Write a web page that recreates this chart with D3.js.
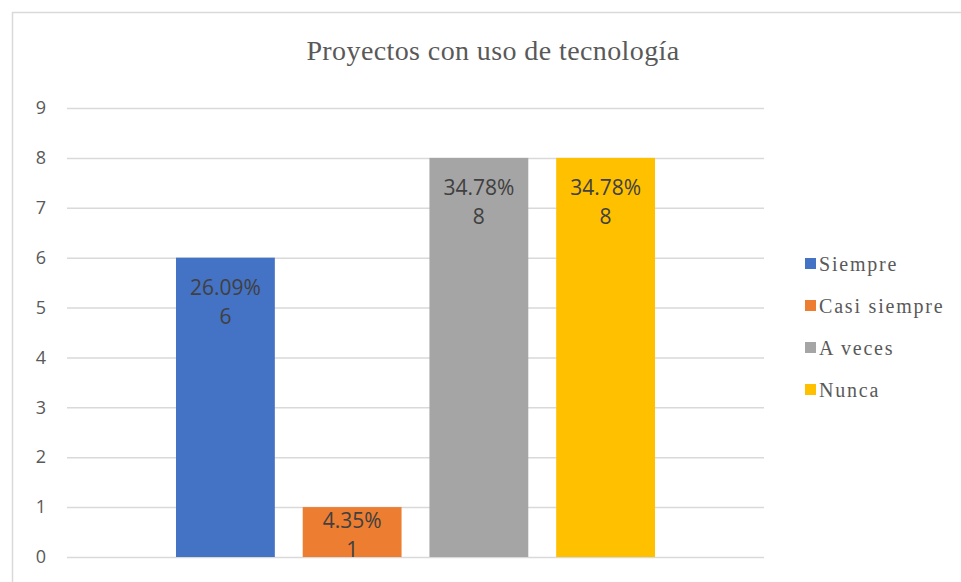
<!DOCTYPE html>
<html>
<head>
<meta charset="utf-8">
<script src="https://cdn.jsdelivr.net/npm/d3@7"></script>
<style>
  html, body { margin: 0; padding: 0; background: #fff; }
  svg { display: block; }
</style>
</head>
<body>
<svg id="chart" width="961" height="582"></svg>
<script>
// Respuestas por categoría (un solo grupo, cuatro series)
const series = ["Siempre", "Casi siempre", "A veces", "Nunca"];
const counts = [6, 1, 8, 8];
const percents = ["26.09%", "4.35%", "34.78%", "34.78%"];
const colors = ["#4472C4", "#ED7D31", "#A5A5A5", "#FFC000"];
const yTicks = [0, 1, 2, 3, 4, 5, 6, 7, 8, 9];
const title = "Proyectos con uso de tecnología";

const svg = d3.select("#chart");
const W = 961, H = 582;
const plot = { left: 67, right: 764, top: 108, bottom: 557 };

// Chart frame
svg.append("rect")
  .attr("x", 12.5).attr("y", 12.5)
  .attr("width", W).attr("height", H)
  .attr("fill", "#fff")
  .attr("stroke", "#D9D9D9").attr("stroke-width", 1.5);

// Title
svg.append("text")
  .attr("x", 493).attr("y", 60)
  .attr("text-anchor", "middle")
  .attr("font-family", "'Liberation Serif', 'Times New Roman', serif")
  .attr("font-size", 28)
  .attr("letter-spacing", 0.4)
  .attr("fill", "#595959")
  .text(title);

const y = d3.scaleLinear().domain([0, 9]).range([plot.bottom, plot.top]);
const x = d3.scaleBand()
  .domain(series)
  .range([plot.left, plot.right])
  .paddingInner(0.22)
  .paddingOuter(0.86);

// Gridlines and tick labels
const yAxis = d3.axisLeft(y)
  .tickValues(yTicks)
  .tickSize(-(plot.right - plot.left))
  .tickPadding(21)
  .tickFormat(d3.format("d"));

const gy = svg.append("g")
  .attr("transform", `translate(${plot.left},0)`)
  .call(yAxis);
gy.select(".domain").remove();
gy.selectAll(".tick line").attr("stroke", "#D9D9D9").attr("stroke-width", 1.5);
gy.selectAll(".tick text")
  .attr("fill", "#595959")
  .attr("font-family", "'Open Sans', sans-serif")
  .attr("font-size", 18);

// Bars
svg.append("g").selectAll("rect")
  .data(series)
  .join("rect")
  .attr("x", d => x(d))
  .attr("y", (d, i) => y(counts[i]))
  .attr("width", x.bandwidth())
  .attr("height", (d, i) => y(0) - y(counts[i]))
  .attr("fill", (d, i) => colors[i]);

// Data labels are clipped to the plot area
svg.append("defs").append("clipPath").attr("id", "plot-clip")
  .append("rect")
  .attr("x", plot.left).attr("y", plot.top)
  .attr("width", plot.right - plot.left)
  .attr("height", plot.bottom - plot.top);

const labels = svg.append("g")
  .attr("clip-path", "url(#plot-clip)")
  .attr("font-family", "'Open Sans', sans-serif")
  .attr("font-size", 21)
  .attr("fill", "#404040")
  .attr("text-anchor", "middle");

// Two-line label (percentage, count) at the inside end of each bar;
// when the bar is shorter than the label block, the block is centred on it.
const blockHeight = 70;
series.forEach((s, i) => {
  const cx = x(s) + x.bandwidth() / 2;
  const top = y(counts[i]);
  const h = y(0) - top;
  const first = h < blockHeight ? top + h / 2 - 4 : top + 37;
  labels.append("text").attr("x", cx).attr("y", first).text(percents[i]);
  labels.append("text").attr("x", cx).attr("y", first + 29).text(counts[i]);
});

// Legend
const legend = svg.append("g").attr("transform", "translate(805,0)");
const legendY = [264, 306, 348, 390];
series.forEach((s, i) => {
  const g = legend.append("g").attr("transform", `translate(0,${legendY[i]})`);
  g.append("rect")
    .attr("x", 0).attr("y", -6)
    .attr("width", 11).attr("height", 11)
    .attr("fill", colors[i]);
  g.append("text")
    .attr("x", 14).attr("y", 7)
    .attr("font-family", "'Liberation Serif', 'Times New Roman', serif")
    .attr("font-size", 20)
    .attr("letter-spacing", 1.8)
    .attr("fill", "#595959")
    .text(s);
});
</script>
</body>
</html>
